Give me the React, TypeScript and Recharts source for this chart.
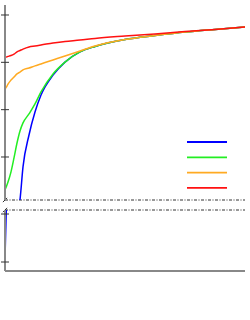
import { LineChart, Line, XAxis, YAxis, ReferenceLine, Legend } from "recharts"

// x positions of the samples
const xs = [0, 0.025, 0.05, 0.1, 0.15, 0.2, 0.25, 0.3, 0.4, 0.5, 0.6, 0.8, 1, 1.25, 1.5, 2, 2.5, 3, 3.5, 4]

const blueValues = [-1.183, -0.95, -0.6, -0.3, -0.15, -0.05, 0.02, 0.158, 0.293, 0.39, 0.462, 0.546, 0.601, 0.644, 0.667, 0.696, 0.713, 0.728, 0.739, 0.749]
const greenValues = [0.061, 0.077, 0.094, 0.137, 0.196, 0.259, 0.31, 0.344, 0.382, 0.424, 0.475, 0.551, 0.601, 0.644, 0.667, 0.696, 0.713, 0.728, 0.739, 0.749]
const orangeValues = [0.487, 0.496, 0.508, 0.525, 0.538, 0.551, 0.559, 0.568, 0.576, 0.585, 0.593, 0.61, 0.627, 0.648, 0.669, 0.696, 0.713, 0.728, 0.739, 0.749]
const redValues = [0.623, 0.623, 0.625, 0.629, 0.635, 0.644, 0.65, 0.656, 0.665, 0.669, 0.673, 0.682, 0.688, 0.694, 0.701, 0.711, 0.72, 0.73, 0.739, 0.749]

const xTicks = [0, 1, 2, 3, 4]
const topTicks = [0.2, 0.4, 0.6, 0.8]
const bottomTicks = [-1.2, -1.0]
const topDomain = [0.0183, 0.8422]
const bottomDomain = [-1.2375, -0.9833]

const series = [
  { key: "blue", color: "#0000ff" },
  { key: "green", color: "#22ee22" },
  { key: "orange", color: "#ffaa22" },
  { key: "red", color: "#ff1111" },
]

const data = xs.map((x, i) => ({
  x,
  blue: blueValues[i],
  green: greenValues[i],
  orange: orangeValues[i],
  red: redValues[i],
}))

const dashDot = "3 1.5 1 1.5"

function crossTick(props: any) {
  return <line x1={1} x2={9} y1={props.y} y2={props.y} stroke="#333" strokeWidth={1} />
}

function renderLegend(props: any) {
  const payload = props.payload || []
  return (
    <svg width={40} height={60}>
      {payload.map((p: any, i: number) => (
        <line key={i} x1={0} x2={40} y1={4 + i * 15.3} y2={4 + i * 15.3} stroke={p.color} strokeWidth={1.8} />
      ))}
    </svg>
  )
}

function renderLines() {
  return series.map((s) => (
    <Line
      key={s.key}
      type="monotone"
      dataKey={s.key}
      name=""
      stroke={s.color}
      strokeWidth={1.5}
      dot={false}
      isAnimationActive={false}
    />
  ))
}

export default function App() {
  return (
    <div style={{ position: "absolute", left: 0, top: 0, width: 250, height: 320, background: "#fff" }}>
      <div style={{ position: "absolute", left: 0, top: 0 }}>
        <LineChart width={250} height={320} data={data} margin={{ top: 210, right: 5, bottom: 48, left: 4 }}>
          <XAxis
            dataKey="x"
            type="number"
            domain={[0, 4]}
            ticks={xTicks}
            allowDataOverflow
            height={1}
            tick={false}
            tickSize={5}
            axisLine={{ stroke: "#888", strokeWidth: 2 }}
            tickLine={{ stroke: "#888" }}
          />
          <YAxis
            type="number"
            domain={bottomDomain}
            ticks={bottomTicks}
            allowDataOverflow
            width={1}
            tick={crossTick}
            tickLine={false}
            axisLine={{ stroke: "#888", strokeWidth: 2 }}
          />
          <ReferenceLine y={bottomDomain[1]} stroke="#333" strokeDasharray={dashDot} />
          <ReferenceLine
            segment={[
              { x: -0.035, y: bottomDomain[1] - 0.009 },
              { x: 0.035, y: bottomDomain[1] + 0.009 },
            ]}
            ifOverflow="visible"
            stroke="#333"
          />
          {renderLines()}
        </LineChart>
      </div>
      <div style={{ position: "absolute", left: 0, top: 0 }}>
        <LineChart width={250} height={205} data={data} margin={{ top: 5, right: 5, bottom: 5, left: 4 }}>
          <XAxis dataKey="x" type="number" domain={[0, 4]} ticks={xTicks} allowDataOverflow hide />
          <YAxis
            type="number"
            domain={topDomain}
            ticks={topTicks}
            allowDataOverflow
            width={1}
            tick={crossTick}
            tickLine={false}
            axisLine={{ stroke: "#888", strokeWidth: 2 }}
          />
          <ReferenceLine y={topDomain[0]} stroke="#333" strokeDasharray={dashDot} />
          <ReferenceLine
            segment={[
              { x: -0.035, y: topDomain[0] - 0.009 },
              { x: 0.035, y: topDomain[0] + 0.009 },
            ]}
            ifOverflow="visible"
            stroke="#333"
          />
          {renderLines()}
          <Legend
            layout="vertical"
            align="center"
            verticalAlign="middle"
            content={renderLegend}
            wrapperStyle={{ left: 187, top: 138, width: 40, height: 60 }}
          />
        </LineChart>
      </div>
    </div>
  )
}
